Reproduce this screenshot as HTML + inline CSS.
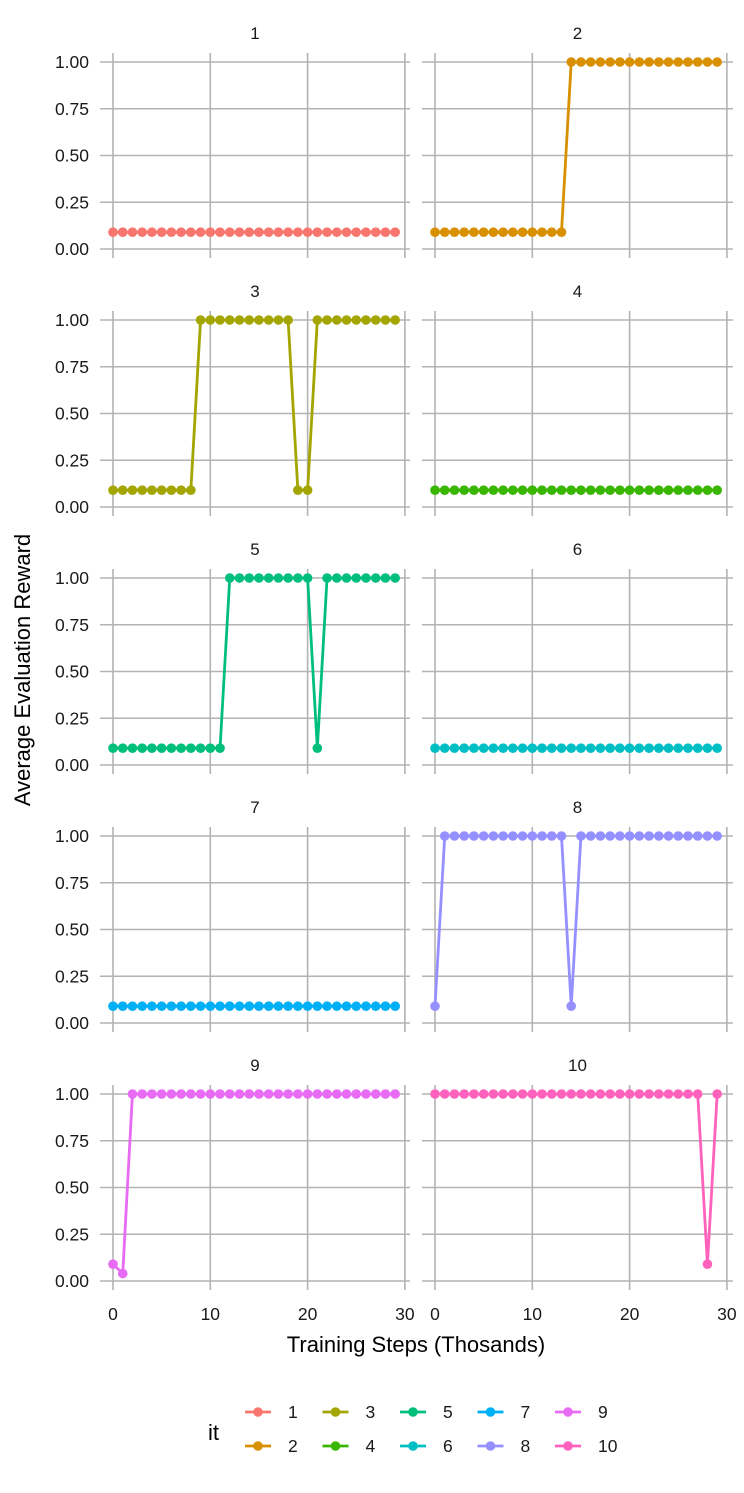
<!DOCTYPE html>
<html><head><meta charset="utf-8"><style>
body{margin:0;background:#fff}
svg text{font-family:"Liberation Sans",Arial,sans-serif}
</style></head><body>
<svg id="chart" width="744" height="1488" xmlns="http://www.w3.org/2000/svg"></svg>
<script>
const panelLabels=["1","2","3","4","5","6","7","8","9","10"];
const colors=["#F8766D","#D89000","#A3A500","#39B600","#00BF7D","#00BFC4","#00B0F6","#9590FF","#E76BF3","#FF62BC"];
const L=0.09,H=1;
const series1=[L,L,L,L,L,L,L,L,L,L,L,L,L,L,L,L,L,L,L,L,L,L,L,L,L,L,L,L,L,L];
const series2=[L,L,L,L,L,L,L,L,L,L,L,L,L,L,H,H,H,H,H,H,H,H,H,H,H,H,H,H,H,H];
const series3=[L,L,L,L,L,L,L,L,L,H,H,H,H,H,H,H,H,H,H,L,L,H,H,H,H,H,H,H,H,H];
const series4=[L,L,L,L,L,L,L,L,L,L,L,L,L,L,L,L,L,L,L,L,L,L,L,L,L,L,L,L,L,L];
const series5=[L,L,L,L,L,L,L,L,L,L,L,L,H,H,H,H,H,H,H,H,H,L,H,H,H,H,H,H,H,H];
const series6=[L,L,L,L,L,L,L,L,L,L,L,L,L,L,L,L,L,L,L,L,L,L,L,L,L,L,L,L,L,L];
const series7=[L,L,L,L,L,L,L,L,L,L,L,L,L,L,L,L,L,L,L,L,L,L,L,L,L,L,L,L,L,L];
const series8=[L,H,H,H,H,H,H,H,H,H,H,H,H,H,L,H,H,H,H,H,H,H,H,H,H,H,H,H,H,H];
const series9=[L,0.04,H,H,H,H,H,H,H,H,H,H,H,H,H,H,H,H,H,H,H,H,H,H,H,H,H,H,H,H];
const series10=[H,H,H,H,H,H,H,H,H,H,H,H,H,H,H,H,H,H,H,H,H,H,H,H,H,H,H,H,L,H];
const allSeries=[series1,series2,series3,series4,series5,series6,series7,series8,series9,series10];
const xTicks=[0,10,20,30];
const yTicks=[0,0.25,0.5,0.75,1];
const yTickLabels=["0.00","0.25","0.50","0.75","1.00"];

const NS="http://www.w3.org/2000/svg";
const svg=document.getElementById('chart');
function mk(tag,attrs,parent,txt){const e=document.createElementNS(NS,tag);for(const k in attrs)e.setAttribute(k,attrs[k]);if(txt!==undefined)e.textContent=txt;(parent||svg).appendChild(e);return e;}
const colX0=[113,435], pxPerX=9.73;
const rowY1=[62,320,578,836,1094], pxPerY=187;
const panelL=[100,422], panelR=[410,733];
for(let p=0;p<10;p++){
  const c=p%2,r=Math.floor(p/2);
  const xs=v=>colX0[c]+v*pxPerX;
  const ys=v=>rowY1[r]+(1-v)*pxPerY;
  const g=mk('g',{});
  
  
  const st=mk('text',{x:(panelL[c]+panelR[c])/2,y:rowY1[r]-23,'text-anchor':'middle','font-size':'17',fill:'#1a1a1a'},g,panelLabels[p]);
  
  
  yTicks.forEach((t,i)=>{
    const gl=mk('line',{x1:panelL[c],x2:panelR[c],y1:ys(t),y2:ys(t),stroke:'#b3b3b3','stroke-width':1.6},g);
    
    
    if(c===0){
      const tl=mk('text',{x:89,y:ys(t)+6,'text-anchor':'end','font-size':'17.5',fill:'#1a1a1a'},g,yTickLabels[i]);
      
      
    }
  });
  xTicks.forEach(t=>{
    const gl=mk('line',{x1:xs(t),x2:xs(t),y1:rowY1[r]-9,y2:rowY1[r]+196,stroke:'#b3b3b3','stroke-width':1.6},g);
    
    
    if(r===4){
      const tl=mk('text',{x:xs(t),y:1320,'text-anchor':'middle','font-size':'17.5',fill:'#1a1a1a'},g,String(t));
      
      
    }
  });
  const data=allSeries[p];
  const pts=data.map((v,i)=>xs(i)+','+ys(v)).join(' ');
  const ln=mk('polyline',{points:pts,fill:'none',stroke:colors[p],'stroke-width':2.8,'stroke-linejoin':'round'},g);
  
  
  data.forEach((v,i)=>{
    const ci=mk('circle',{cx:xs(i),cy:ys(v),r:4.8,fill:colors[p]},g);
    
    
  });
}
const yt=mk('text',{x:0,y:0,transform:'translate(30,670) rotate(-90)','text-anchor':'middle','font-size':'22',fill:'#000'},svg,'Average Evaluation Reward');


const xt=mk('text',{x:416,y:1352,'text-anchor':'middle','font-size':'22',fill:'#000'},svg,'Training Steps (Thosands)');


const lg=mk('g',{});


const lt=mk('text',{x:208,y:1440,'font-size':'22',fill:'#000'},lg,'it');


for(let k=0;k<10;k++){
  const col=Math.floor(k/2),row=k%2;
  const kx=258+col*77.5, ky=1412+row*34;
  const eg=mk('g',{},lg);
  
  
  mk('line',{x1:kx-13,x2:kx+13,y1:ky,y2:ky,stroke:colors[k],'stroke-width':2.8},eg);
  mk('circle',{cx:kx,cy:ky,r:4.8,fill:colors[k]},eg);
  mk('text',{x:kx+30,y:ky+6,'text-anchor':'start','font-size':'17.5',fill:'#1a1a1a'},eg,panelLabels[k]);
}
</script>
</body></html>
